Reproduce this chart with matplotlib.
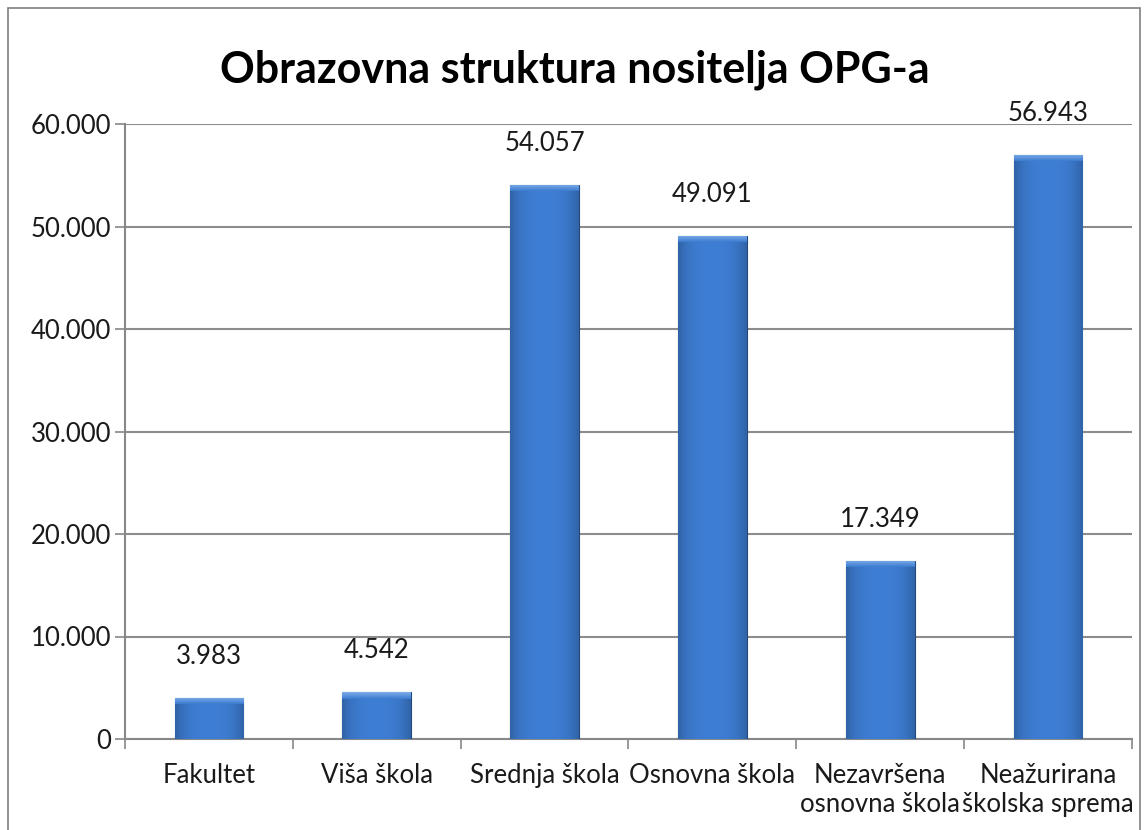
import matplotlib
matplotlib.use("Agg")
import matplotlib.pyplot as plt
import numpy as np
from matplotlib.patches import Rectangle
from matplotlib.ticker import FuncFormatter

categories = ["Fakultet", "Viša škola", "Srednja škola", "Osnovna škola",
              "Nezavršena\nosnovna škola", "Neažurirana\nškolska sprema"]
values = [3983, 4542, 54057, 49091, 17349, 56943]
yticks = [0, 10000, 20000, 30000, 40000, 50000, 60000]

plt.rcParams['font.family'] = ['Lato', 'DejaVu Sans']

fig = plt.figure(figsize=(11.48, 8.30), dpi=100)
ax = fig.add_axes([125 / 1148, 1 - 739 / 830, (1132 - 125) / 1148, (739 - 124) / 830])

# outer chart frame
fig.patches.append(Rectangle((8 / 1148, -0.02), (1140 - 8) / 1148, 1.02 - 8 / 830,
                             transform=fig.transFigure, fill=False, edgecolor="#808080", lw=1.2))

x = np.arange(len(categories))
bars = ax.bar(x, values, width=0.41, color="#3C7BCF", edgecolor="#234A80", lw=0.8, zorder=3)

# soft horizontal shading on the bars (bevel look)
t = np.linspace(-1, 1, 256)
shade = 1.02 - 0.22 * np.abs(t) ** 3
base = np.array([0x3C, 0x7B, 0xCF]) / 255
img = np.ones((1, 256, 4))
img[0, :, :3] = np.clip(base[None, :] * shade[:, None], 0, 1)
tv = np.linspace(0, 1, 32)
topimg = np.ones((32, 1, 4))
topimg[:, 0, :3] = (np.array([0.50, 0.68, 0.92])[None, :] * (1 - tv[:, None])
                    + base[None, :] * tv[:, None])
for b in bars:
    xb, yb = b.get_x(), b.get_y()
    w, h = b.get_width(), b.get_height()
    im = ax.imshow(img, extent=[xb, xb + w, yb, yb + h], aspect="auto", zorder=3.5)
    im.set_clip_path(b)
    top = ax.imshow(topimg, extent=[xb, xb + w, yb + h - 600, yb + h], aspect="auto",
                    origin="upper", zorder=3.6)
    top.set_clip_path(b)
    ax.annotate(f"{int(h):,}".replace(",", "."), (xb + w / 2, yb + h),
                xytext=(0, 30), textcoords="offset points",
                ha="center", va="center", fontsize=18.5, color="#1a1a1a")

ax.set_xlim(-0.5, len(categories) - 0.5)
ax.set_ylim(0, 60000)
ax.set_yticks(yticks)
ax.yaxis.set_major_formatter(FuncFormatter(lambda v, p: f"{int(v):,}".replace(",", ".")))
ax.set_xticks(x)
ax.set_xticklabels(categories, fontsize=18.5, color="#1a1a1a")
ax.set_xticks(np.arange(-0.5, len(categories)), minor=True)
ax.tick_params(axis="x", which="major", length=0, pad=17)
ax.tick_params(axis="x", which="minor", length=7, color="#888888", width=1.2)
ax.tick_params(axis="y", length=7, color="#888888", width=1.2, labelsize=18.5,
               labelcolor="#1a1a1a", pad=3)
ax.grid(axis="y", color="#8c8c8c", lw=1.5, zorder=0)
ax.set_axisbelow(True)
for s in ["top", "right"]:
    ax.spines[s].set_visible(False)
for s in ["left", "bottom"]:
    ax.spines[s].set_color("#888888")
    ax.spines[s].set_linewidth(1.5)

fig.text(575 / 1148, 1 - 70 / 830, "Obrazovna struktura nositelja OPG-a",
         ha="center", va="center", fontsize=31, fontweight="bold", color="#000000")

fig.savefig("out.png", dpi=100)
